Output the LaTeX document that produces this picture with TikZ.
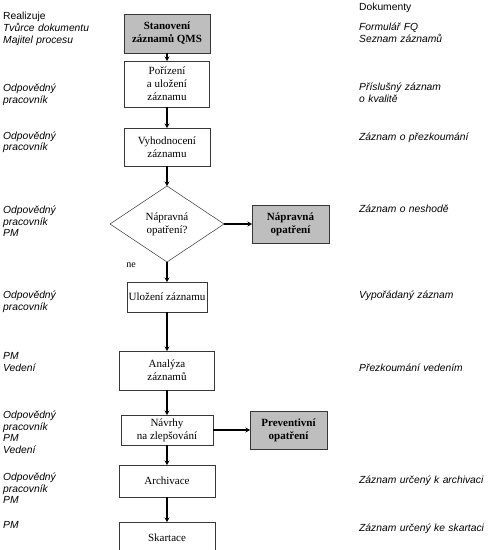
\documentclass[tikz,border=0pt]{standalone}
\usepackage{fontspec}
\setmainfont{Liberation Serif}
\setsansfont{Liberation Sans}
\usepackage{tikz}
\usetikzlibrary{arrows.meta,positioning,shapes.geometric}

\definecolor{boxgray}{RGB}{190,190,190}
\definecolor{edgegray}{RGB}{55,55,55}

\begin{document}
\begin{tikzpicture}[
  box/.style={rectangle, draw=edgegray, line width=0.7pt, fill=white, inner sep=0pt, outer sep=0pt, align=center, font=\fontsize{11}{13}\selectfont},
  gbox/.style={box, fill=boxgray, font=\fontsize{11}{13}\selectfont\bfseries},
  decision/.style={diamond, draw=edgegray, line width=0.5pt, inner sep=0pt, outer sep=0pt, aspect=1.5, minimum width=114pt, minimum height=76pt, align=center, font=\fontsize{11}{13}\selectfont},
  who/.style={anchor=base west, inner sep=0pt, text width=150pt, align=left, font=\sffamily\itshape\fontsize{10.3}{11.5}\selectfont},
  head/.style={anchor=base west, inner sep=0pt, font=\sffamily\fontsize{10.3}{11.5}\selectfont},
  arrow/.style={-{Stealth[length=4.5pt,width=5pt]}, line width=1.5pt},
]
\useasboundingbox (0,0) rectangle (488pt,-550pt);

\node[gbox, minimum width=86pt, minimum height=39pt] (stanoveni) at (167pt,-33.5pt) {Stanovení\\záznamů QMS};
\node[box, minimum width=85pt, minimum height=46pt, below=8pt of stanoveni] (porizeni) {Pořízení\\a uložení\\záznamu};
\node[box, minimum width=86pt, minimum height=38pt, below=21pt of porizeni] (vyhodnoceni) {Vyhodnocení\\záznamu};
\node[decision, below=20pt of vyhodnoceni] (napravna) {Nápravná\\opatření?};
\node[gbox, minimum width=77pt, minimum height=38pt, right=28pt of napravna] (napr) {Nápravná\\opatření};
\node[box, minimum width=80pt, minimum height=30pt, below=20pt of napravna] (ulozeni) {Uložení záznamu};
\node[box, minimum width=95pt, minimum height=39pt, below=39pt of ulozeni] (analyza) {Analýza\\záznamů};
\node[box, minimum width=92pt, minimum height=30pt, below=25pt of analyza] (navrhy) {Návrhy\\na zlepšování};
\node[gbox, minimum width=77pt, minimum height=38pt, right=37pt of navrhy] (prev) {Preventivní\\opatření};
\node[box, minimum width=96pt, minimum height=32pt, below=20pt of navrhy] (archivace) {Archivace};
\node[box, minimum width=96pt, minimum height=32pt, below=25pt of archivace] (skartace) {Skartace};
\node[inner sep=0pt, font=\fontsize{10}{12}\selectfont, below left=1pt and 31pt of napravna.south] (ne) {ne};

\draw[arrow] (stanoveni) -- (porizeni);
\draw[arrow] (porizeni) -- (vyhodnoceni);
\draw[arrow] (vyhodnoceni) -- (napravna);
\draw[arrow] (napravna) -- (napr);
\draw[arrow] (napravna) -- (ulozeni);
\draw[arrow] (ulozeni) -- (analyza);
\draw[arrow] (analyza) -- (navrhy);
\draw[arrow] (navrhy) -- (prev);
\draw[arrow] (navrhy) -- (archivace);
\draw[arrow] (archivace) -- (skartace);

\node[head] (realizuje) at (3pt,-19.2pt) {Realizuje};
\node[who] (w1) at (3pt,-31.8pt) {Tvůrce dokumentu\\Majitel procesu};
\node[who] (w2) at (3pt,-91.5pt) {Odpovědný\\pracovník};
\node[who] (w3) at (3pt,-139pt) {Odpovědný\\pracovník};
\node[who] (w4) at (3pt,-213.5pt) {Odpovědný\\pracovník\\PM};
\node[who] (w5) at (3pt,-298.5pt) {Odpovědný\\pracovník};
\node[who] (w6) at (3pt,-359.5pt) {PM\\Vedení};
\node[who] (w7) at (3pt,-418.5pt) {Odpovědný\\pracovník\\PM\\Vedení};
\node[who] (w8) at (3pt,-480.5pt) {Odpovědný\\pracovník\\PM};
\node[who] (w9) at (3pt,-528.5pt) {PM};

\node[head] (dokumenty) at (359pt,-10.8pt) {Dokumenty};
\node[who] (d1) at (359pt,-30.8pt) {Formulář FQ\\Seznam záznamů};
\node[who] (d2) at (359pt,-90.5pt) {Příslušný záznam\\o kvalitě};
\node[who] (d3) at (359pt,-140pt) {Záznam o přezkoumání};
\node[who] (d4) at (359pt,-212.5pt) {Záznam o neshodě};
\node[who] (d5) at (359pt,-298.5pt) {Vypořádaný záznam};
\node[who] (d6) at (359pt,-371.5pt) {Přezkoumání vedením};
\node[who] (d7) at (359pt,-483.5pt) {Záznam určený k archivaci};
\node[who] (d8) at (359pt,-531.5pt) {Záznam určený ke skartaci};
\end{tikzpicture}
\end{document}
